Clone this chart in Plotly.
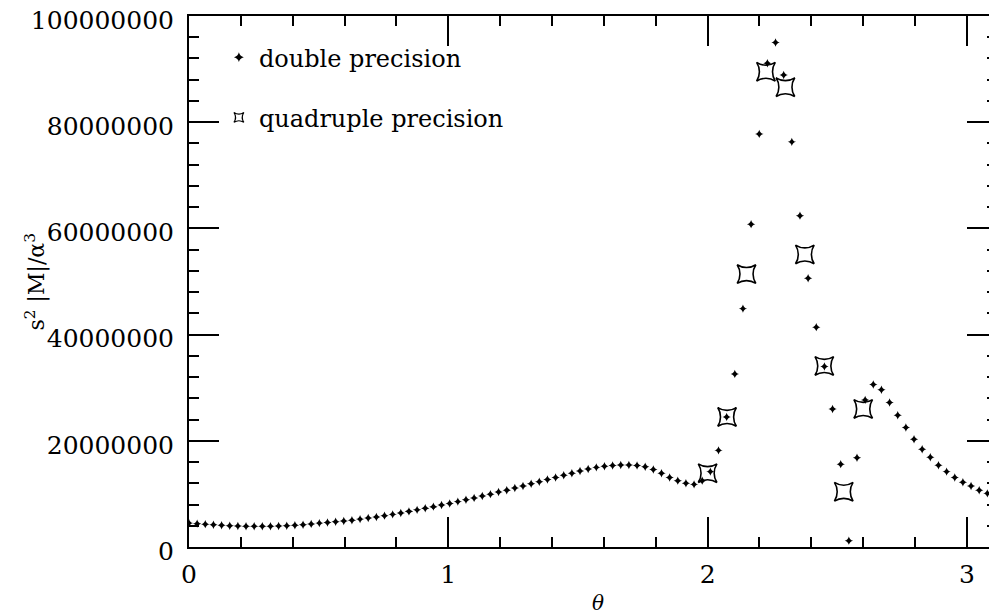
import math
import plotly.graph_objects as go

# double precision: theta_k = k*pi/100, values in units of 1e6
double_k = list(range(100))
double_vals_M = [
    4.5, 4.4, 4.3, 4.2, 4.1, 4.0, 3.95, 3.9, 3.9, 3.9,
    3.9, 3.95, 4.0, 4.1, 4.2, 4.35, 4.5, 4.6, 4.75, 4.9,
    5.05, 5.25, 5.45, 5.65, 5.9, 6.15, 6.4, 6.7, 7.0, 7.3,
    7.6, 7.9, 8.2, 8.55, 8.9, 9.25, 9.6, 9.95, 10.35, 10.7,
    11.1, 11.5, 11.9, 12.3, 12.7, 13.1, 13.5, 13.9, 14.3, 14.7,
    15.0, 15.2, 15.35, 15.45, 15.45, 15.35, 15.1, 14.6, 13.9, 13.1,
    12.5, 12.0, 11.8, 12.5, 14.2, 18.2, 24.5, 32.6, 44.9, 60.8,
    77.8, 91.1, 95.0, 88.9, 76.3, 62.4, 50.6, 41.4, 34.0, 26.0,
    15.6, 1.2, 16.8, 27.7, 30.6, 29.6, 27.2, 24.8, 22.5, 20.3,
    18.4, 16.9, 15.4, 14.2, 13.1, 12.2, 11.5, 10.7, 10.1, 9.6,
]

quad_theta = [2.0, 2.075, 2.15, 2.225, 2.3, 2.375, 2.45, 2.525, 2.6]
quad_vals_M = [13.9, 24.5, 51.4, 89.5, 86.6, 55.1, 34.1, 10.4, 26.0]

x_ticks = [0, 1, 2, 3]
y_ticks = [0, 20000000, 40000000, 60000000, 80000000, 100000000]

double_theta = [k * math.pi / 100 for k in double_k]
double_vals = [v * 1e6 for v in double_vals_M]
quad_vals = [v * 1e6 for v in quad_vals_M]

FONT = "DejaVu Serif"

fig = go.Figure()
fig.add_trace(go.Scatter(
    x=double_theta, y=double_vals, mode="markers", name="double precision",
    showlegend=False,
    marker=dict(symbol="star-diamond", size=6, color="black"),
))
fig.add_trace(go.Scatter(
    x=quad_theta, y=quad_vals, mode="markers", name="quadruple precision",
    showlegend=False,
    marker=dict(symbol="star-square-open", size=17, color="black",
                line=dict(color="black", width=1.6)),
))
# legend entries (small symbols as in the reference legend)
fig.add_trace(go.Scatter(
    x=[None], y=[None], mode="markers", name="double precision", legendgroup="d",
    marker=dict(symbol="star-diamond", size=7, color="black"),
))
fig.add_trace(go.Scatter(
    x=[None], y=[None], mode="markers", name="quadruple precision", legendgroup="q",
    marker=dict(symbol="star-square-open", size=9, color="black",
                line=dict(color="black", width=1.2)),
))

axis_common = dict(
    showline=True, linecolor="black", linewidth=2, mirror="ticks",
    ticks="inside", ticklen=30, tickwidth=2, tickcolor="black",
    showgrid=False, zeroline=False, automargin=False,
    ticklabeloverflow="allow",
    tickfont=dict(family=FONT, size=25, color="black"),
)

fig.update_xaxes(
    range=[0, 3.116], tickvals=x_ticks, ticktext=[str(t) for t in x_ticks],
    minor=dict(dtick=0.2, ticks="inside", ticklen=10, tickwidth=2, tickcolor="black"),
    ticklabelstandoff=4,
    **axis_common,
)
fig.update_yaxes(
    range=[0, 100000000], tickvals=y_ticks, tickformat="d",
    minor=dict(dtick=4000000, ticks="inside", ticklen=10, tickwidth=2, tickcolor="black"),
    ticklabelstandoff=8, ticklabelshift=4,
    **axis_common,
)

PLOT_W = 808
PLOT_H = 531
fig.add_annotation(
    text="<i>θ</i>", xref="paper", yref="paper",
    x=409 / PLOT_W, y=-56 / PLOT_H, xanchor="center", yanchor="middle",
    showarrow=False, font=dict(family=FONT, size=20, color="black"),
)
fig.add_annotation(
    text="s<sup>2</sup> |M|/α<sup>3</sup>", xref="paper", yref="paper",
    x=-154 / PLOT_W, y=0.5, xanchor="center", yanchor="middle", textangle=-90,
    showarrow=False, font=dict(family=FONT, size=22, color="black"),
)

fig.update_layout(
    width=989, height=606,
    margin=dict(l=181, r=0, t=8, b=67),
    paper_bgcolor="white", plot_bgcolor="white",
    showlegend=True,
    legend=dict(x=0.037, y=0.964, xanchor="left", yanchor="top",
                bgcolor="rgba(0,0,0,0)", tracegroupgap=26,
                font=dict(family=FONT, size=24, color="black")),
)

fig.write_html("out.html")
